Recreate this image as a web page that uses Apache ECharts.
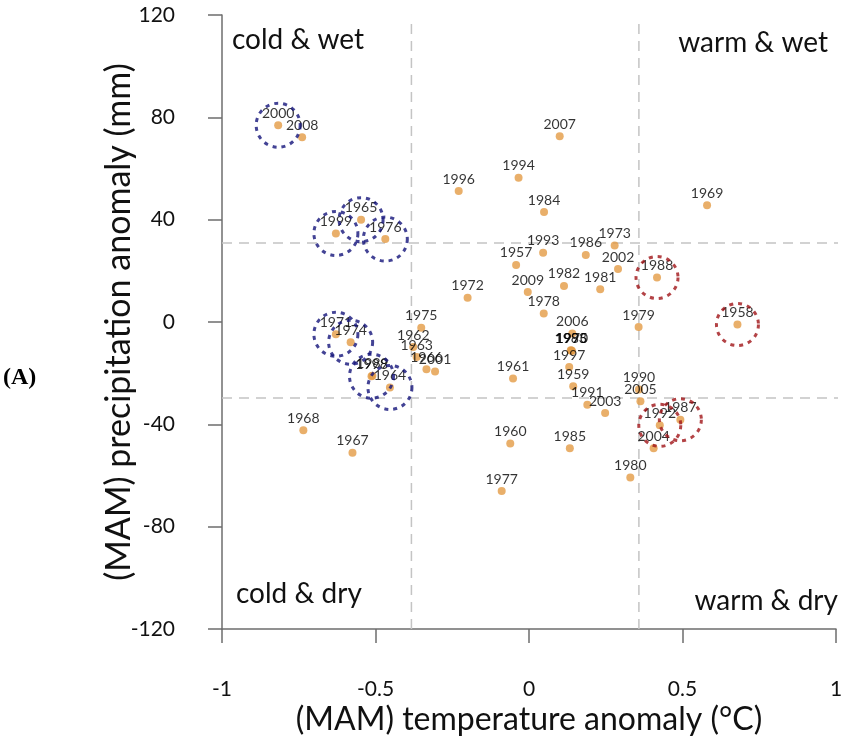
<!DOCTYPE html>
<html>
<head>
<meta charset="utf-8">
<script src="https://cdn.jsdelivr.net/npm/echarts@6/dist/echarts.min.js"></script>
<style>html,body{margin:0;padding:0;background:#fff}#c{width:843px;height:749px}</style>
</head>
<body>
<div id="c"></div>
<script>
// ---- data ----
var years = ['2000','2008','1965','1999','1976','1971','1974','1975','1962','1963','1966','2001','1998','1989','1964','1968','1967',
  '2007','1996','1994','1984','1993','1957','1986','1973','2002','1972','2009','1982','1981','1978','1979',
  '2006','1995','1983','1970','1997','1959','1961','1991','2003','1990','2005','1992','2004','1987','1960','1985','1980','1977',
  '1988','1958','1969'];
var temp = [-0.817,-0.739,-0.547,-0.629,-0.468,-0.629,-0.581,-0.351,-0.377,-0.366,-0.334,-0.306,-0.513,-0.510,-0.453,-0.735,-0.575,
  0.100,-0.229,-0.034,0.049,0.046,-0.042,0.185,0.279,0.290,-0.200,-0.004,0.114,0.232,0.048,0.357,
  0.141,0.138,0.136,0.140,0.131,0.144,-0.052,0.190,0.248,0.358,0.363,0.426,0.406,0.493,-0.061,0.133,0.330,-0.089,
  0.417,0.679,0.580];
var precip = [76.9,72.2,40.0,34.6,32.4,-4.8,-7.9,-2.2,-9.8,-13.7,-18.5,-19.3,-21.2,-21.0,-25.6,-42.3,-51.1,
  72.6,51.2,56.4,43.0,27.1,22.3,26.2,29.9,20.7,9.5,11.7,14.1,12.8,3.3,-2.0,
  -4.5,-11.1,-11.0,-11.3,-17.6,-25.1,-22.1,-32.3,-35.6,-26.4,-31.0,-40.4,-49.3,-38.2,-47.5,-49.3,-60.8,-66.1,
  17.4,-1.0,45.6];
var blueCircled = ['2000','1965','1999','1976','1971','1974','1998','1964'];
var redCircled = ['1988','1958','1992','1987'];
var xTickLabels = ['-1','-0.5','0','0.5','1'];
var yTickLabels = ['-120','-80','-40','0','40','80','120'];
var thresholdsT = [-0.383, 0.358];
var thresholdsP = [-29.7, 30.9];
var quadrantLabels = ['cold & wet','warm & wet','cold & dry','warm & dry'];

// ---- build ----
var pts = years.map(function(y,i){ return [temp[i], precip[i], y]; });
function pick(list){ return pts.filter(function(p){ return list.indexOf(p[2]) >= 0; }); }
var font = "Lato, 'Open Sans', sans-serif";
var qFont = "28px Lato, sans-serif";

var guide = {type:'line', silent:true, symbol:'none', clip:false, z:1,
  lineStyle:{color:'#c4c4c4', width:1.5, type:[10,7]}};
var series = [
  Object.assign({}, guide, {data:[[thresholdsT[0],-120],[thresholdsT[0],117]]}),
  Object.assign({}, guide, {data:[[thresholdsT[1],-120],[thresholdsT[1],117]]}),
  Object.assign({}, guide, {data:[[-1,thresholdsP[0]],[1.02,thresholdsP[0]]]}),
  Object.assign({}, guide, {data:[[-1,thresholdsP[1]],[1.02,thresholdsP[1]]]}),
  {type:'scatter', data:pts, symbolSize:8, z:3,
    itemStyle:{color:'#E39B45'},
    label:{show:true, position:'top', distance:1, formatter:function(p){return p.data[2];},
      color:'#000', fontSize:14, fontFamily:font}},
  {type:'scatter', data:pick(blueCircled), symbolSize:44, z:4, silent:true,
    itemStyle:{color:'rgba(0,0,0,0)', borderColor:'#14147a', borderWidth:3, borderType:[4,5]}},
  {type:'scatter', data:pick(redCircled), symbolSize:42, z:4, silent:true,
    itemStyle:{color:'rgba(0,0,0,0)', borderColor:'#a01418', borderWidth:3, borderType:[4,5]}}
];

var chart = echarts.init(document.getElementById('c'));
chart.setOption({
  animation:false,
  grid:{left:222, right:7, top:15, bottom:120, containLabel:false, outerBoundsMode:'none'},
  xAxis:{type:'value', min:-1, max:1, interval:0.5,
    axisLine:{onZero:false, lineStyle:{color:'#6e6e6e', width:1.5}},
    axisTick:{length:14, lineStyle:{color:'#6e6e6e', width:1.5}},
    splitLine:{show:false},
    axisLabel:{margin:50, fontSize:21, color:'#111', fontFamily:font,
      formatter:function(v){ var i=Math.round((v+1)/0.5); return xTickLabels[i]; }},
    name:'(MAM) temperature anomaly (°C)', nameLocation:'middle', nameGap:75, nameMoveOverlap:false,
    nameTextStyle:{fontSize:32, color:'#111', fontFamily:font}},
  yAxis:{type:'value', min:-120, max:120, interval:40,
    axisLine:{show:true, onZero:false, lineStyle:{color:'#6e6e6e', width:1.5}},
    axisTick:{show:true, length:14, lineStyle:{color:'#6e6e6e', width:1.5}},
    splitLine:{show:false},
    axisLabel:{margin:47, fontSize:21, color:'#111', fontFamily:font,
      formatter:function(v){ var i=Math.round((v+120)/40); return yTickLabels[i]; }},
    name:'(MAM) precipitation anomaly (mm)', nameLocation:'middle', nameGap:86, nameRotate:90, nameMoveOverlap:false,
    nameTextStyle:{fontSize:34, color:'#111', fontFamily:font}},
  graphic:[
    {type:'text', left:232, top:26, style:{text:quadrantLabels[0], font:qFont, fill:'#111'}},
    {type:'text', right:15, top:29, style:{text:quadrantLabels[1], font:qFont, fill:'#111'}},
    {type:'text', left:236, top:580, style:{text:quadrantLabels[2], font:qFont, fill:'#111'}},
    {type:'text', right:5, top:587, style:{text:quadrantLabels[3], font:qFont, fill:'#111'}},
    {type:'text', left:3, top:366, style:{text:'(A)', font:"bold 24px 'Liberation Serif', serif", fill:'#000'}}
  ],
  series:series
});
</script>
</body>
</html>
